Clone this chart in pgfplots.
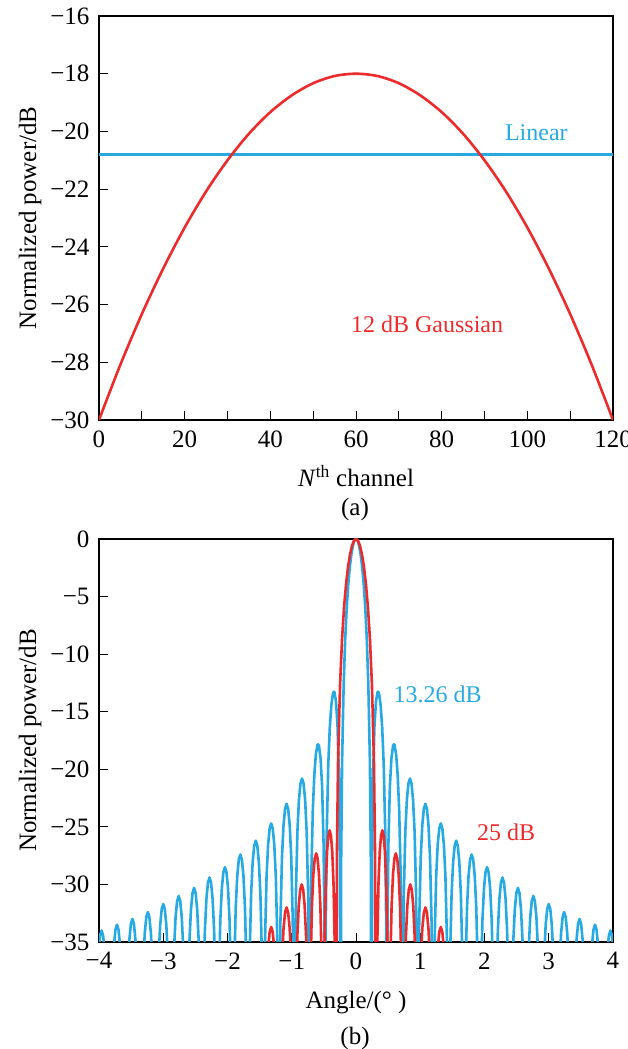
\documentclass[border=0pt]{standalone}
\usepackage{pgfplots}
\pgfplotsset{compat=1.18}
\usepackage{pgfplotstable}
\usepackage{fontspec}
\setmainfont{Liberation Serif}
\definecolor{myblue}{RGB}{39,170,225}
\definecolor{myred}{RGB}{236,43,45}

\pgfplotstableread{
x y
-4.08 -60
-4.056 -44.2
-4.032 -38.61
-4.008 -35.84
-3.984 -34.44
-3.96 -34.0
-3.936 -34.44
-3.912 -35.84
-3.888 -38.61
-3.864 -44.2
-3.84 -60
-3.816 -43.7
-3.792 -38.11
-3.768 -35.34
-3.744 -33.94
-3.72 -33.5
-3.696 -33.94
-3.672 -35.34
-3.648 -38.11
-3.624 -43.7
-3.6 -60
-3.576 -43.2
-3.552 -37.61
-3.528 -34.84
-3.504 -33.44
-3.48 -33.0
-3.456 -33.44
-3.432 -34.84
-3.408 -37.61
-3.384 -43.2
-3.36 -60
-3.336 -42.6
-3.312 -37.01
-3.288 -34.24
-3.264 -32.84
-3.24 -32.4
-3.216 -32.84
-3.192 -34.24
-3.168 -37.01
-3.144 -42.6
-3.12 -60
-3.096 -41.9
-3.072 -36.31
-3.048 -33.54
-3.024 -32.14
-3.0 -31.7
-2.976 -32.14
-2.952 -33.54
-2.928 -36.31
-2.904 -41.9
-2.88 -60
-2.856 -41.2
-2.832 -35.61
-2.808 -32.84
-2.784 -31.44
-2.76 -31.0
-2.736 -31.44
-2.712 -32.84
-2.688 -35.61
-2.664 -41.2
-2.64 -60
-2.616 -40.5
-2.592 -34.91
-2.568 -32.14
-2.544 -30.74
-2.52 -30.3
-2.496 -30.74
-2.472 -32.14
-2.448 -34.91
-2.424 -40.5
-2.4 -60
-2.376 -39.6
-2.352 -34.01
-2.328 -31.24
-2.304 -29.84
-2.28 -29.4
-2.256 -29.84
-2.232 -31.24
-2.208 -34.01
-2.184 -39.6
-2.16 -60
-2.136 -38.7
-2.112 -33.11
-2.088 -30.34
-2.064 -28.94
-2.04 -28.5
-2.016 -28.94
-1.992 -30.34
-1.968 -33.11
-1.944 -38.7
-1.92 -60
-1.896 -37.6
-1.872 -32.01
-1.848 -29.24
-1.824 -27.84
-1.8 -27.4
-1.776 -27.84
-1.752 -29.24
-1.728 -32.01
-1.704 -37.6
-1.68 -60
-1.656 -36.4
-1.632 -30.81
-1.608 -28.04
-1.584 -26.64
-1.56 -26.2
-1.536 -26.64
-1.512 -28.04
-1.488 -30.81
-1.464 -36.4
-1.44 -60
-1.416 -34.9
-1.392 -29.31
-1.368 -26.54
-1.344 -25.14
-1.32 -24.7
-1.296 -25.14
-1.272 -26.54
-1.248 -29.31
-1.224 -34.9
-1.2 -60
-1.176 -33.2
-1.152 -27.61
-1.128 -24.84
-1.104 -23.44
-1.08 -23.0
-1.056 -23.44
-1.032 -24.84
-1.008 -27.61
-0.984 -33.2
-0.96 -60
-0.936 -31.0
-0.912 -25.41
-0.888 -22.64
-0.864 -21.24
-0.84 -20.8
-0.816 -21.24
-0.792 -22.64
-0.768 -25.41
-0.744 -31.0
-0.72 -60
-0.7104 -37.41
-0.696 -29.39
-0.672 -23.50
-0.648 -20.41
-0.624 -18.68
-0.6 -17.90
-0.5904 -17.83
-0.576 -17.98
-0.552 -19.02
-0.528 -21.41
-0.504 -26.59
-0.4896 -34.17
-0.48 -60
-0.4704 -33.83
-0.456 -25.72
-0.432 -19.66
-0.408 -16.39
-0.384 -14.46
-0.36 -13.46
-0.3432 -13.26
-0.336 -13.30
-0.312 -14.06
-0.288 -16.14
-0.264 -20.97
-0.2496 -28.32
-0.24 -60
-0.2304 -27.63
-0.216 -19.23
-0.192 -12.62
-0.168 -8.69
-0.144 -5.94
-0.12 -3.92
-0.096 -2.42
-0.072 -1.33
-0.048 -0.58
-0.024 -0.14
0 0
0.024 -0.14
0.048 -0.58
0.072 -1.33
0.096 -2.42
0.12 -3.92
0.144 -5.94
0.168 -8.69
0.192 -12.62
0.216 -19.23
0.2304 -27.63
0.24 -60
0.2496 -28.32
0.264 -20.97
0.288 -16.14
0.312 -14.06
0.336 -13.30
0.3432 -13.26
0.36 -13.46
0.384 -14.46
0.408 -16.39
0.432 -19.66
0.456 -25.72
0.4704 -33.83
0.48 -60
0.4896 -34.17
0.504 -26.59
0.528 -21.41
0.552 -19.02
0.576 -17.98
0.5904 -17.83
0.6 -17.90
0.624 -18.68
0.648 -20.41
0.672 -23.50
0.696 -29.39
0.7104 -37.41
0.72 -60
0.744 -31.0
0.768 -25.41
0.792 -22.64
0.816 -21.24
0.84 -20.8
0.864 -21.24
0.888 -22.64
0.912 -25.41
0.936 -31.0
0.96 -60
0.984 -33.2
1.008 -27.61
1.032 -24.84
1.056 -23.44
1.08 -23.0
1.104 -23.44
1.128 -24.84
1.152 -27.61
1.176 -33.2
1.2 -60
1.224 -34.9
1.248 -29.31
1.272 -26.54
1.296 -25.14
1.32 -24.7
1.344 -25.14
1.368 -26.54
1.392 -29.31
1.416 -34.9
1.44 -60
1.464 -36.4
1.488 -30.81
1.512 -28.04
1.536 -26.64
1.56 -26.2
1.584 -26.64
1.608 -28.04
1.632 -30.81
1.656 -36.4
1.68 -60
1.704 -37.6
1.728 -32.01
1.752 -29.24
1.776 -27.84
1.8 -27.4
1.824 -27.84
1.848 -29.24
1.872 -32.01
1.896 -37.6
1.92 -60
1.944 -38.7
1.968 -33.11
1.992 -30.34
2.016 -28.94
2.04 -28.5
2.064 -28.94
2.088 -30.34
2.112 -33.11
2.136 -38.7
2.16 -60
2.184 -39.6
2.208 -34.01
2.232 -31.24
2.256 -29.84
2.28 -29.4
2.304 -29.84
2.328 -31.24
2.352 -34.01
2.376 -39.6
2.4 -60
2.424 -40.5
2.448 -34.91
2.472 -32.14
2.496 -30.74
2.52 -30.3
2.544 -30.74
2.568 -32.14
2.592 -34.91
2.616 -40.5
2.64 -60
2.664 -41.2
2.688 -35.61
2.712 -32.84
2.736 -31.44
2.76 -31.0
2.784 -31.44
2.808 -32.84
2.832 -35.61
2.856 -41.2
2.88 -60
2.904 -41.9
2.928 -36.31
2.952 -33.54
2.976 -32.14
3.0 -31.7
3.024 -32.14
3.048 -33.54
3.072 -36.31
3.096 -41.9
3.12 -60
3.144 -42.6
3.168 -37.01
3.192 -34.24
3.216 -32.84
3.24 -32.4
3.264 -32.84
3.288 -34.24
3.312 -37.01
3.336 -42.6
3.36 -60
3.384 -43.2
3.408 -37.61
3.432 -34.84
3.456 -33.44
3.48 -33.0
3.504 -33.44
3.528 -34.84
3.552 -37.61
3.576 -43.2
3.6 -60
3.624 -43.7
3.648 -38.11
3.672 -35.34
3.696 -33.94
3.72 -33.5
3.744 -33.94
3.768 -35.34
3.792 -38.11
3.816 -43.7
3.84 -60
3.864 -44.2
3.888 -38.61
3.912 -35.84
3.936 -34.44
3.96 -34.0
3.984 -34.44
4.008 -35.84
4.032 -38.61
4.056 -44.2
4.08 -60
}\uniform

\pgfplotstableread{
x y
-1.44 -60
-1.416 -43.9
-1.392 -38.31
-1.368 -35.54
-1.344 -34.14
-1.32 -33.7
-1.296 -34.14
-1.272 -35.54
-1.248 -38.31
-1.224 -43.9
-1.2 -60
-1.176 -42.2
-1.152 -36.61
-1.128 -33.84
-1.104 -32.44
-1.08 -32.0
-1.056 -32.44
-1.032 -33.84
-1.008 -36.61
-0.984 -42.2
-0.96 -60
-0.937 -40.2
-0.914 -34.61
-0.891 -31.84
-0.868 -30.44
-0.845 -30.0
-0.822 -30.44
-0.799 -31.84
-0.776 -34.61
-0.753 -40.2
-0.73 -60
-0.708 -37.5
-0.686 -31.91
-0.664 -29.14
-0.642 -27.74
-0.62 -27.3
-0.598 -27.74
-0.576 -29.14
-0.554 -31.91
-0.532 -37.5
-0.51 -60
-0.49 -35.5
-0.47 -29.91
-0.45 -27.14
-0.43 -25.74
-0.41 -25.3
-0.39 -25.74
-0.37 -27.14
-0.35 -29.91
-0.33 -35.5
-0.31 -60
-0.2976 -27.63
-0.279 -19.23
-0.248 -12.62
-0.217 -8.69
-0.186 -5.94
-0.155 -3.92
-0.124 -2.42
-0.093 -1.33
-0.062 -0.58
-0.031 -0.14
0 0
0.031 -0.14
0.062 -0.58
0.093 -1.33
0.124 -2.42
0.155 -3.92
0.186 -5.94
0.217 -8.69
0.248 -12.62
0.279 -19.23
0.2976 -27.63
0.31 -60
0.33 -35.5
0.35 -29.91
0.37 -27.14
0.39 -25.74
0.41 -25.3
0.43 -25.74
0.45 -27.14
0.47 -29.91
0.49 -35.5
0.51 -60
0.532 -37.5
0.554 -31.91
0.576 -29.14
0.598 -27.74
0.62 -27.3
0.642 -27.74
0.664 -29.14
0.686 -31.91
0.708 -37.5
0.73 -60
0.753 -40.2
0.776 -34.61
0.799 -31.84
0.822 -30.44
0.845 -30.0
0.868 -30.44
0.891 -31.84
0.914 -34.61
0.937 -40.2
0.96 -60
0.984 -42.2
1.008 -36.61
1.032 -33.84
1.056 -32.44
1.08 -32.0
1.104 -32.44
1.128 -33.84
1.152 -36.61
1.176 -42.2
1.2 -60
1.224 -43.9
1.248 -38.31
1.272 -35.54
1.296 -34.14
1.32 -33.7
1.344 -34.14
1.368 -35.54
1.392 -38.31
1.416 -43.9
1.44 -60
}\taper

\pgfplotsset{
  panel/.style={
    scale only axis, anchor=south west, width=514pt,
    tick align=inside, tick pos=left,
    major tick length=9pt, minor tick length=9pt,
    every tick/.style={black, line width=0.9pt},
    axis line style={black, line width=1.1pt},
    ticklabel style={font=\fontsize{25}{29}\selectfont},
    xticklabel style={yshift=-7pt},
    yticklabel style={xshift=-6pt},
    label style={font=\fontsize{25}{29}\selectfont},
    clip=true,
  }
}

\begin{document}
\begin{tikzpicture}
\path[use as bounding box] (0pt,0pt) rectangle (627pt,1049pt);
\begin{axis}[panel, at={(99pt,629pt)}, height=404pt,
  xmin=0, xmax=120, ymin=-30, ymax=-16,
  xtick={0,20,40,60,80,100,120},
  xticklabels={0,20,40,60,80,100,120},
  minor xtick={10,30,50,70,90,110},
  ytick={-30,-28,-26,-24,-22,-20,-18,-16},
  yticklabels={−30,−28,−26,−24,−22,−20,−18,−16},
  xlabel={\textit{N}\textsuperscript{th} channel},
  xlabel style={at={(axis description cs:0.5,-0.138)}, anchor=center},
  ylabel={Normalized power/dB},
  ylabel style={at={(axis description cs:-0.134,0.5)}, anchor=center},
]
\addplot[myblue, line width=2.6pt] coordinates {(0,-20.8) (120,-20.8)};
\addplot[myred, line width=2.6pt, smooth] coordinates {
(0,-30) (5,-28.08) (10,-26.33) (15,-24.75) (20,-23.33) (25,-22.08) (30,-21.0)
(35,-20.08) (40,-19.33) (45,-18.75) (50,-18.33) (55,-18.08) (60,-18)
(65,-18.08) (70,-18.33) (75,-18.75) (80,-19.33) (85,-20.08) (90,-21.0)
(95,-22.08) (100,-23.33) (105,-24.75) (110,-26.33) (115,-28.08) (120,-30)};
\node[text=myblue, font=\fontsize{24}{28}\selectfont] at (axis cs:102.1,-20.05) {Linear};
\node[text=myred, font=\fontsize{24}{28}\selectfont] at (axis cs:76.6,-26.67) {12 dB Gaussian};
\end{axis}

\begin{axis}[panel, at={(99pt,107pt)}, height=403pt,
  xmin=-4, xmax=4, ymin=-35, ymax=0,
  xtick={-4,-3,-2,-1,0,1,2,3,4},
  xticklabels={−4,−3,−2,−1,0,1,2,3,4},
  ytick={-35,-30,-25,-20,-15,-10,-5,0},
  yticklabels={−35,−30,−25,−20,−15,−10,−5,0},
  xlabel={Angle/(°\ )},
  xlabel style={at={(axis description cs:0.5,-0.149)}, anchor=center},
  ylabel={Normalized power/dB},
  ylabel style={at={(axis description cs:-0.134,0.5)}, anchor=center},
]
\addplot[myblue, line width=2.6pt, line join=round] table[x=x,y=y] {\uniform};
\addplot[myred, line width=2.6pt, line join=round] table[x=x,y=y] {\taper};
\node[text=myblue, font=\fontsize{24}{28}\selectfont] at (axis cs:1.27,-13.47) {13.26 dB};
\node[text=myred, font=\fontsize{24}{28}\selectfont] at (axis cs:2.335,-25.45) {25 dB};
\end{axis}

\node[font=\fontsize{25}{29}\selectfont] at (355pt,540pt) {(a)};
\node[font=\fontsize{25}{29}\selectfont] at (355pt,11pt) {(b)};
\end{tikzpicture}
\end{document}
